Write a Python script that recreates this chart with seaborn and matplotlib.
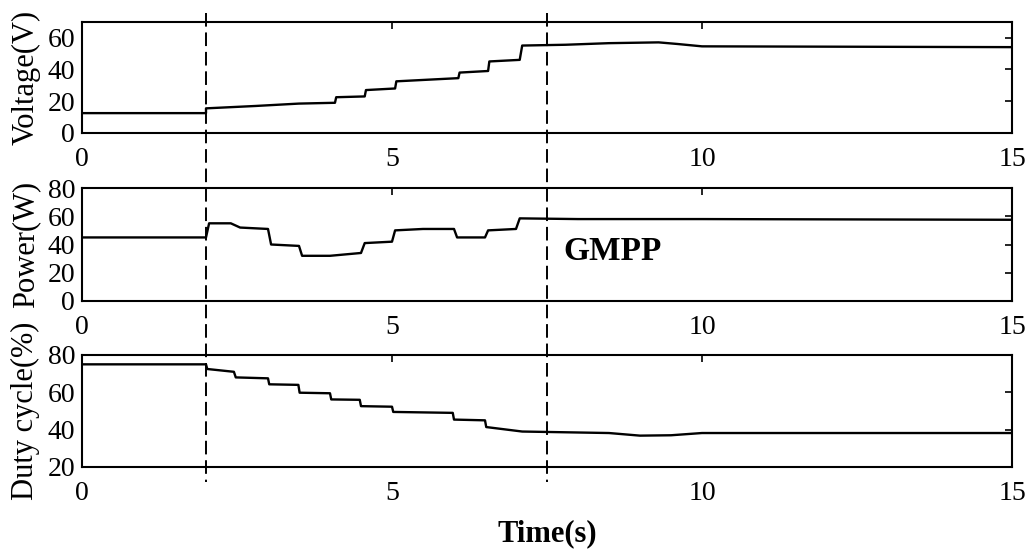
import numpy as np
import pandas as pd
import seaborn as sns
import matplotlib.pyplot as plt
from matplotlib.lines import Line2D
from matplotlib.transforms import blended_transform_factory


# PV voltage trace (time in s, volts)
volt_t = [0, 2.0, 2.0, 2.8, 3.5, 4.08, 4.1, 4.56, 4.58, 5.05, 5.07, 6.07, 6.09, 6.55, 6.57,
          7.06, 7.1, 7.8, 8.5, 9.3, 9.6, 10.0, 15.0]
volt_v = [12.5, 12.5, 15.5, 17, 18.5, 19, 22.5, 23, 27, 28, 32.5, 34.5, 38, 39, 45,
          46, 55, 55.5, 56.5, 57, 56, 54.5, 54]

# PV power trace (time in s, watts)
pow_t = [0, 2.0, 2.05, 2.4, 2.55, 3.0, 3.05, 3.5, 3.55, 4.0, 4.5, 4.56, 5.0, 5.05, 5.5,
         6.0, 6.05, 6.5, 6.55, 7.0, 7.06, 8.0, 10.0, 15.0]
pow_p = [45, 45, 55, 55, 52, 51, 40, 39, 32, 32, 34, 41, 42, 50, 51,
         51, 45, 45, 50, 51, 58.5, 58, 58, 57.5]

# duty cycle trace (time in s, percent)
duty_t = [0, 2.0, 2.02, 2.45, 2.48, 3.0, 3.02, 3.49, 3.51, 4.0, 4.02, 4.48, 4.5, 5.0, 5.02,
          5.98, 6.0, 6.5, 6.52, 7.1, 8.5, 9.0, 9.5, 10.0, 15.0]
duty_d = [75, 75, 72.5, 71, 68, 67.5, 64.3, 64, 59.8, 59.5, 56.2, 56, 52.6, 52.3, 49.5,
          49, 45.4, 45, 41.4, 39, 38.2, 36.8, 37, 38.2, 38.2]

# shading change instants (dashed markers)
marker_times = [2.0, 7.5]

x_ticks = [0, 5, 10, 15]
volt_ticks = [0, 20, 40, 60]
pow_ticks = [0, 20, 40, 60, 80]
duty_ticks = [20, 40, 60, 80]

df_v = pd.DataFrame({'t': volt_t, 'v': volt_v})
df_p = pd.DataFrame({'t': pow_t, 'v': pow_p})
df_d = pd.DataFrame({'t': duty_t, 'v': duty_d})

sns.set_theme(style="white")
plt.rcParams['font.family'] = ['Liberation Serif', 'DejaVu Serif']
plt.rcParams['axes.edgecolor'] = 'black'
plt.rcParams['axes.linewidth'] = 1.5
plt.rcParams['text.color'] = 'black'
plt.rcParams['axes.labelcolor'] = 'black'
plt.rcParams['xtick.color'] = 'black'
plt.rcParams['ytick.color'] = 'black'

fig = plt.figure(figsize=(10.3, 5.58), dpi=100)
fig.patch.set_facecolor('white')

W, H = 1030, 558
left, right = 82, 1012
# (top px, bottom px) of each panel
boxes = [(21.7, 133), (188, 301), (355, 467)]
axes = []
for top, bot in boxes:
    ax = fig.add_axes([left / W, 1 - bot / H, (right - left) / W, (bot - top) / H])
    axes.append(ax)

panels = [
    (df_v, 'Voltage(V)', (0, 70), volt_ticks),
    (df_p, 'Power(W)', (0, 80), pow_ticks),
    (df_d, 'Duty cycle(%)', (20, 80), duty_ticks),
]

for ax, (d, label, ylim, yt) in zip(axes, panels):
    sns.lineplot(data=d, x='t', y='v', ax=ax, color='black', linewidth=1.7,
                 estimator=None, sort=False)
    ax.set_xlim(0, 15)
    ax.set_ylim(*ylim)
    ax.set_xticks(x_ticks)
    ax.set_yticks(yt)
    ax.set_xlabel('')
    ax.set_ylabel(label, fontsize=22, color='black')
    ax.yaxis.set_label_coords(-0.045, 0.5)
    ax.tick_params(direction='in', length=5, width=1.2, top=True, right=True,
                   labelsize=20, colors='black')
    ax.tick_params(axis='x', pad=10)
    ax.tick_params(axis='y', pad=5)
    for s in ax.spines.values():
        s.set_color('black')
        s.set_linewidth(1.5)

axes[1].text(7.77, 34.7, 'GMPP', fontsize=24, fontweight='bold', color='black',
             ha='left', va='center')

axes[2].set_xlabel('Time(s)', fontsize=22, fontweight='bold', color='black')
axes[2].xaxis.set_label_coords(0.5, -0.47)

# dashed markers running across all panels
trans = blended_transform_factory(axes[0].transData, fig.transFigure)
for tm in marker_times:
    fig.add_artist(Line2D([tm, tm], [0.977, 0.136], transform=trans, color='black',
                          linewidth=1.4, linestyle=(0, (7, 3))))

plt.savefig('out.png', dpi=100, facecolor='white')
